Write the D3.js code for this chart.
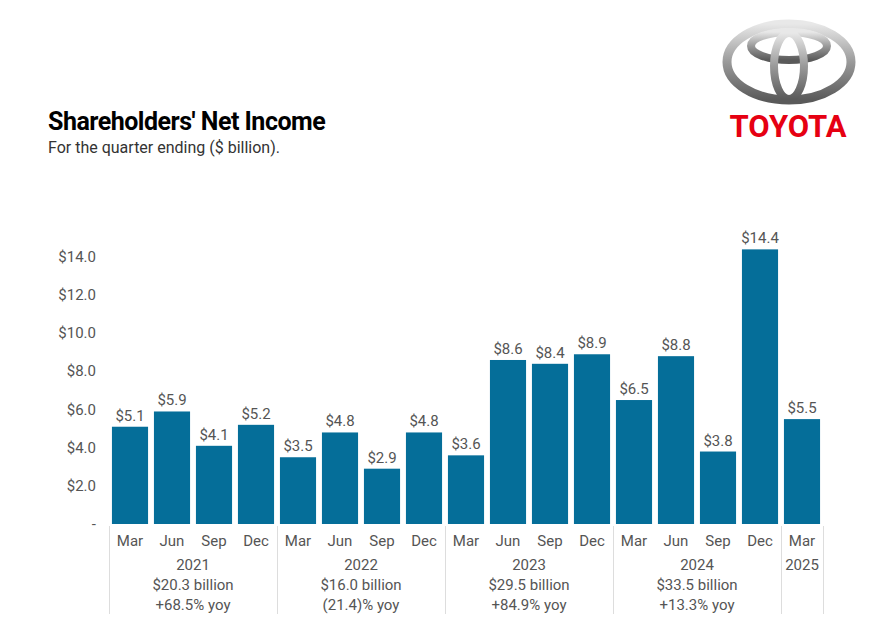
<!DOCTYPE html>
<html><head><meta charset="utf-8">
<script src="https://cdn.jsdelivr.net/npm/d3@7"></script>
<style>body{margin:0;background:#fff;font-family:Roboto,sans-serif}</style>
</head><body><div id="c"></div>
<script>
const months = ["Mar","Jun","Sep","Dec","Mar","Jun","Sep","Dec","Mar","Jun","Sep","Dec","Mar","Jun","Sep","Dec","Mar"];
const values = [5.1,5.9,4.1,5.2,3.5,4.8,2.9,4.8,3.6,8.6,8.4,8.9,6.5,8.8,3.8,14.4,5.5];
const years = ["2021","2022","2023","2024","2025"];
const yearTotals = ["$20.3 billion","$16.0 billion","$29.5 billion","$33.5 billion",""];
const yearYoy = ["+68.5% yoy","(21.4)% yoy","+84.9% yoy","+13.3% yoy",""];
const yTicks = [0,2,4,6,8,10,12,14];

const W = 879, H = 639;
const svg = d3.select("#c").append("svg").attr("width", W).attr("height", H);

const x = d3.scaleBand().domain(d3.range(values.length)).range([109, 823]).paddingInner(0.14).paddingOuter(0.07);
const y = d3.scaleLinear().domain([0, 14]).range([524, 257]);

svg.append("text").attr("x", 48).attr("y", 130).attr("font-size", 25).attr("font-weight", 700)
  .attr("fill", "#000").attr("letter-spacing", -0.5).text("Shareholders' Net Income");
svg.append("text").attr("x", 48).attr("y", 153).attr("font-size", 16).attr("fill", "#333")
  .text("For the quarter ending ($ billion).");

// y axis labels
svg.selectAll(".yt").data(yTicks).join("text")
  .attr("x", 96).attr("y", d => y(d) + 5).attr("text-anchor", "end")
  .attr("font-size", 15).attr("fill", "#555")
  .text(d => d === 0 ? "-" : "$" + d.toFixed(1));

svg.selectAll(".bar").data(values).join("rect")
  .attr("x", (d, i) => x(i)).attr("width", x.bandwidth())
  .attr("y", d => y(d)).attr("height", d => y(0) - y(d)).attr("fill", "#056e99");

svg.selectAll(".vl").data(values).join("text")
  .attr("x", (d, i) => x(i) + x.bandwidth() / 2).attr("y", d => y(d) - 6)
  .attr("text-anchor", "middle").attr("font-size", 15).attr("fill", "#555")
  .text(d => "$" + d.toFixed(1));

svg.selectAll(".ml").data(months).join("text")
  .attr("x", (d, i) => x(i) + x.bandwidth() / 2).attr("y", 546)
  .attr("text-anchor", "middle").attr("font-size", 15).attr("fill", "#555").text(d => d);

// year groups
const step = x.step();
const start = x(0) - x.paddingOuter() * step - x.paddingInner() * step / 2 + 2;
const groupStarts = [0, 4, 8, 12, 16, 17];
groupStarts.forEach(g => {
  const gx = Math.round(x(0) + g * step - x.paddingInner() * step / 2) + 0.5;
  svg.append("line").attr("x1", gx).attr("x2", gx).attr("y1", 526).attr("y2", 614)
    .attr("stroke", "#ddd");
});
years.forEach((yr, k) => {
  const a = groupStarts[k], b = groupStarts[k + 1];
  const cx = x(0) + (a + b) / 2 * step - x.paddingInner() * step / 2;
  const t = svg.append("text").attr("text-anchor", "middle").attr("font-size", 15).attr("fill", "#555");
  [yr, yearTotals[k], yearYoy[k]].forEach((s, j) => {
    if (s) t.append("tspan").attr("x", cx).attr("y", 570 + j * 20).text(s);
  });
});

// logo
const lg = svg.append("g").attr("transform", "translate(789,62)");
const gr = svg.append("defs").append("linearGradient").attr("id", "gg").attr("x1", 0).attr("y1", 0).attr("x2", 0).attr("y2", 1);
gr.append("stop").attr("offset", 0).attr("stop-color", "#e8e8e8");
gr.append("stop").attr("offset", 0.5).attr("stop-color", "#9a9a9a");
gr.append("stop").attr("offset", 1).attr("stop-color", "#5a5a5a");
lg.append("ellipse").attr("rx", 62).attr("ry", 38).attr("fill", "none").attr("stroke", "url(#gg)").attr("stroke-width", 9);
lg.append("ellipse").attr("cy", -16).attr("rx", 38).attr("ry", 14).attr("fill", "none").attr("stroke", "url(#gg)").attr("stroke-width", 8);
lg.append("ellipse").attr("cy", 4).attr("rx", 15).attr("ry", 33).attr("fill", "none").attr("stroke", "url(#gg)").attr("stroke-width", 8);
svg.append("text").attr("x", 788).attr("y", 137).attr("text-anchor", "middle")
  .attr("font-size", 31).attr("font-weight", 700).attr("fill", "#e60012").text("TOYOTA");
</script></body></html>
